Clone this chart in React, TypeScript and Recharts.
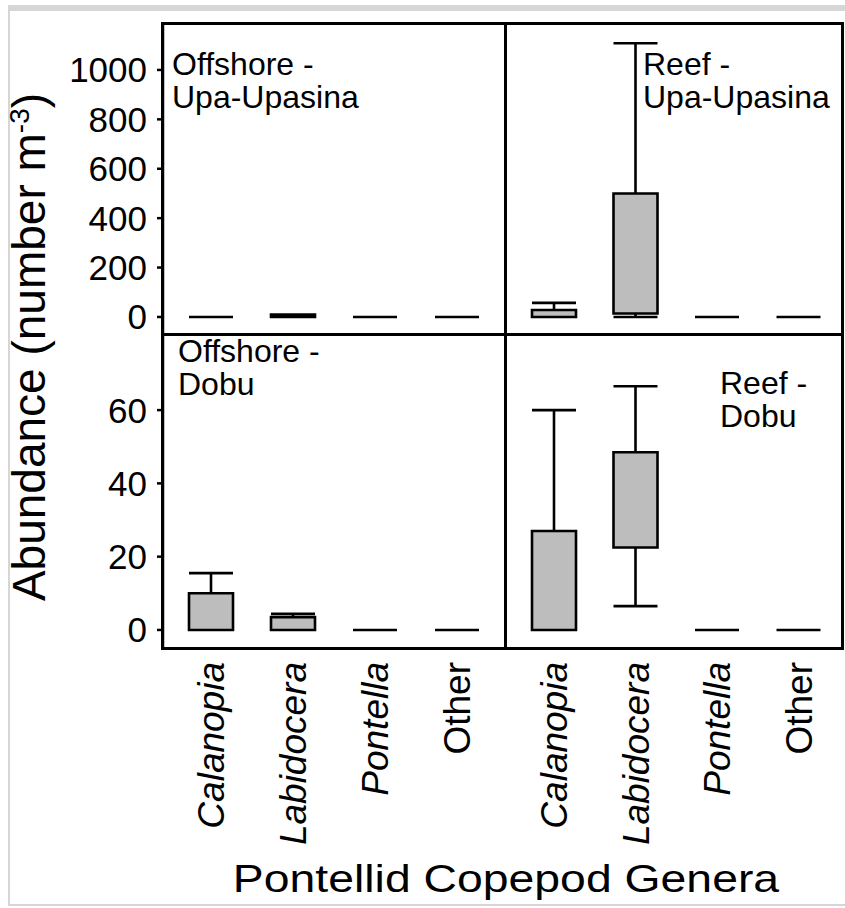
import { ComposedChart, Bar, XAxis, YAxis } from 'recharts';

const FONT = '"Liberation Sans", Arial, sans-serif';

const genera = ['Calanopia', 'Labidocera', 'Pontella', 'Other'];

// box-plot stats per panel, one entry per genus: min, q1, q3, max
const offUpaMin = [0, 0, 0, 0];
const offUpaQ1 = [0, 0, 0, 0];
const offUpaQ3 = [0, 10, 0, 0];
const offUpaMax = [0, 10, 0, 0];

const reefUpaMin = [0, 0, 0, 0];
const reefUpaQ1 = [0, 14, 0, 0];
const reefUpaQ3 = [28, 500, 0, 0];
const reefUpaMax = [57, 1108, 0, 0];

const offDobuMin = [0, 0, 0, 0];
const offDobuQ1 = [0, 0, 0, 0];
const offDobuQ3 = [10, 3.5, 0, 0];
const offDobuMax = [15.5, 4.4, 0, 0];

const reefDobuMin = [0, 6.5, 0, 0];
const reefDobuQ1 = [0, 22.5, 0, 0];
const reefDobuQ3 = [27, 48.5, 0, 0];
const reefDobuMax = [60, 66.5, 0, 0];

const upaTicks = [0, 200, 400, 600, 800, 1000];
const dobuTicks = [0, 20, 40, 60];

const upaDomain = [-73, 1186];
const dobuDomain = [-5.2, 80.5];

const SW = 2.6; // stroke width of boxes and whiskers

function buildData(min: number[], q1: number[], q3: number[], max: number[]) {
  return genera.map((g, i) => ({
    genus: g,
    base: min[i],
    lowW: q1[i] - min[i],
    box: q3[i] - q1[i],
    upW: max[i] - q3[i],
  }));
}

const Empty = () => <g />;

const BoxShape = (p: any) => {
  const { x, y, width, height } = p;
  if (!isFinite(x) || !isFinite(y)) return <g />;
  return (
    <path
      d={`M${x},${y}h${width}v${height || 0}h${-width}Z`}
      fill="#bdbdbd"
      stroke="#000"
      strokeWidth={SW}
    />
  );
};

const UpperWhisker = (p: any) => {
  const { x, y, width, height } = p;
  if (!height || !isFinite(y)) return <g />;
  const cx = x + width / 2;
  return (
    <g stroke="#000" strokeWidth={SW}>
      <line x1={cx} x2={cx} y1={y} y2={y + height} />
      <line x1={x} x2={x + width} y1={y} y2={y} />
    </g>
  );
};

const LowerWhisker = (p: any) => {
  const { x, y, width, height } = p;
  if (!height || !isFinite(y)) return <g />;
  const cx = x + width / 2;
  return (
    <g stroke="#000" strokeWidth={SW}>
      <line x1={cx} x2={cx} y1={y} y2={y + height} />
      <line x1={x} x2={x + width} y1={y + height} y2={y + height} />
    </g>
  );
};

const GenusTick = (p: any) => {
  const { x, y, payload } = p;
  const name = payload.value;
  return (
    <text
      transform={`translate(${x},${y + 13}) rotate(-90)`}
      textAnchor="end"
      dy="0.36em"
      fontSize={37}
      fontFamily={FONT}
      fontStyle={name === 'Other' ? 'normal' : 'italic'}
      fill="#000"
    >
      {name}
    </text>
  );
};

interface PanelProps {
  data: any[];
  domain: number[];
  ticks: number[];
  left: number;
  top: number;
  width: number;
  height: number;
  showY?: boolean;
  showX?: boolean;
  padLeft: number;
  padRight: number;
}

function Panel({ data, domain, ticks, left, top, width, height, showY, showX, padLeft, padRight }: PanelProps) {
  return (
    <div style={{ position: 'absolute', left, top }}>
      <ComposedChart width={width} height={height} data={data} margin={{ top: 0, right: 0, bottom: 0, left: 0 }}>
        <XAxis
          dataKey="genus"
          type="category"
          hide={!showX}
          height={showX ? 259 : 0}
          axisLine={false}
          tickLine={false}
          tickSize={0}
          tickMargin={0}
          interval={0}
          tick={<GenusTick />}
          padding={{ left: padLeft, right: padRight }}
        />
        <YAxis
          type="number"
          domain={domain}
          ticks={ticks}
          interval={0}
          allowDataOverflow
          hide={!showY}
          width={showY ? 163 : 0}
          axisLine={{ stroke: '#000', strokeWidth: 2.5 }}
          tickLine={{ stroke: '#000', strokeWidth: 2.5 }}
          tickSize={6}
          tickMargin={10}
          tick={{ fontSize: 35, fill: '#000', fontFamily: FONT }}
        />
        <Bar dataKey="base" stackId="a" barSize={44} shape={<Empty />} isAnimationActive={false} />
        <Bar dataKey="lowW" stackId="a" barSize={44} shape={<LowerWhisker />} isAnimationActive={false} />
        <Bar dataKey="box" stackId="a" barSize={44} shape={<BoxShape />} isAnimationActive={false} />
        <Bar dataKey="upW" stackId="a" barSize={44} shape={<UpperWhisker />} isAnimationActive={false} />
      </ComposedChart>
    </div>
  );
}

export default function App() {
  const offUpa = buildData(offUpaMin, offUpaQ1, offUpaQ3, offUpaMax);
  const reefUpa = buildData(reefUpaMin, reefUpaQ1, reefUpaQ3, reefUpaMax);
  const offDobu = buildData(offDobuMin, offDobuQ1, offDobuQ3, offDobuMax);
  const reefDobu = buildData(reefDobuMin, reefDobuQ1, reefDobuQ3, reefDobuMax);

  return (
    <div style={{ position: 'absolute', left: 0, top: 0, width: 845, height: 908, background: '#fff', overflow: 'hidden' }}>
      {/* light grey frame of the figure */}
      <div
        style={{
          position: 'absolute', left: 8, top: 5, width: 850, height: 901, boxSizing: 'border-box',
          borderTop: '6px solid #d6d6d6', borderLeft: '2px solid #d6d6d6', borderBottom: '2px solid #d6d6d6',
        }}
      />
      <Panel data={offUpa} domain={upaDomain} ticks={upaTicks} left={0} top={24} width={506} height={311} showY padLeft={7} padRight={8} />
      <Panel data={reefUpa} domain={upaDomain} ticks={upaTicks} left={506} top={24} width={337} height={311} padLeft={7} padRight={4} />
      <Panel data={offDobu} domain={dobuDomain} ticks={dobuTicks} left={0} top={335} width={506} height={573} showY showX padLeft={7} padRight={8} />
      <Panel data={reefDobu} domain={dobuDomain} ticks={dobuTicks} left={506} top={335} width={337} height={573} showX padLeft={7} padRight={4} />

      {/* panel frames */}
      <div style={{ position: 'absolute', left: 161, top: 22, width: 683, height: 628, boxSizing: 'border-box', border: '3px solid #000' }} />
      <div style={{ position: 'absolute', left: 504, top: 22, width: 3, height: 628, background: '#000' }} />
      <div style={{ position: 'absolute', left: 161, top: 333, width: 683, height: 3, background: '#000' }} />

      <svg width={845} height={908} style={{ position: 'absolute', left: 0, top: 0, pointerEvents: 'none' }}>
        <g fontFamily={FONT} fill="#000" fontSize={32}>
          <text x={172} y={75}>Offshore -</text>
          <text x={172} y={108}>Upa-Upasina</text>
          <text x={643} y={75}>Reef -</text>
          <text x={643} y={108}>Upa-Upasina</text>
          <text x={178} y={362}>Offshore -</text>
          <text x={178} y={395}>Dobu</text>
          <text x={720} y={394}>Reef -</text>
          <text x={720} y={427}>Dobu</text>
        </g>
        <text
          transform="translate(45,347) rotate(-90)"
          textAnchor="middle"
          fontFamily={FONT}
          fontSize={46}
          fill="#000"
        >
          Abundance (number m
          <tspan dy={-16} fontSize={28}>-3</tspan>
          <tspan dy={16}>)</tspan>
        </text>
        {/* the axis title is a little wider than tall in the figure */}
        <text
          transform="translate(506,892) scale(1.22,1)"
          textAnchor="middle"
          fontFamily={FONT}
          fontSize={38}
          fill="#000"
        >
          Pontellid Copepod Genera
        </text>
      </svg>
    </div>
  );
}
